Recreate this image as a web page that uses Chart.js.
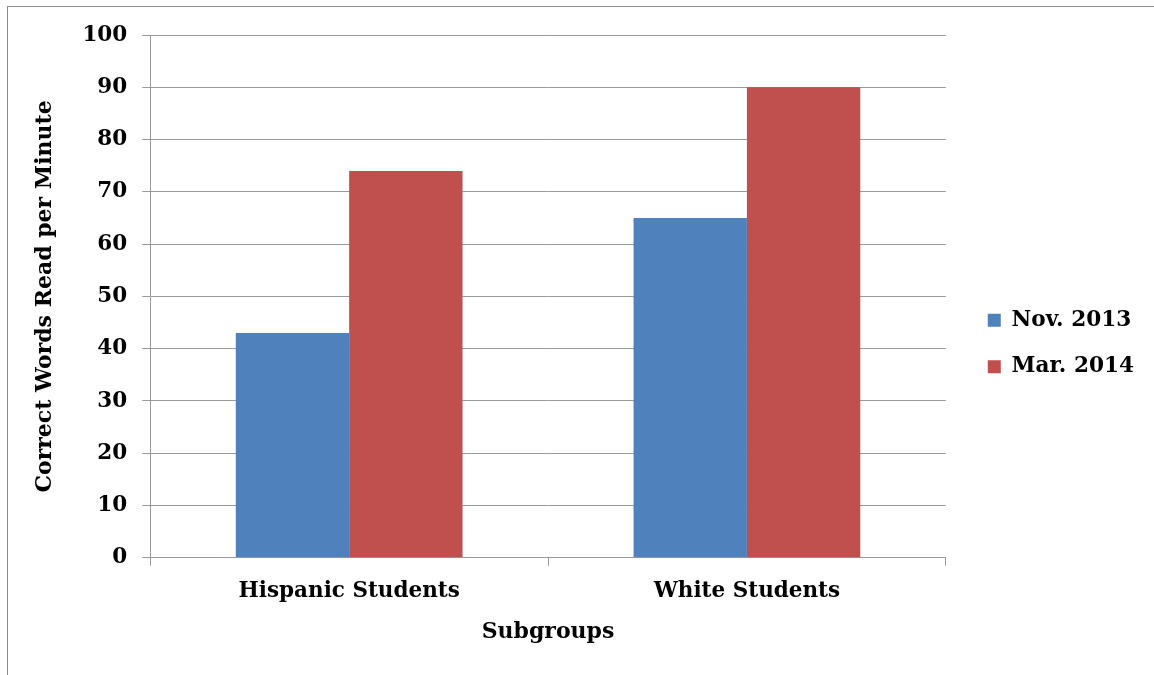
<!DOCTYPE html>
<html>
<head>
<meta charset="utf-8">
<script src="https://cdn.jsdelivr.net/npm/chart.js@4"></script>
<style>
  html, body { margin: 0; padding: 0; background: #fff; overflow: hidden; }
  #frame {
    position: absolute; left: 7px; top: 6px; width: 1200px; height: 700px;
    border-left: 1px solid #8c8c8c; border-top: 1px solid #8c8c8c;
  }
  #wrap { position: absolute; left: 0; top: 0; width: 1154px; height: 675px; }
</style>
</head>
<body>
<div id="frame"></div>
<div id="wrap"><canvas id="chart"></canvas></div>
<script>
// Chart data
const subgroups = ['Hispanic Students', 'White Students'];
const nov2013 = [43, 65];
const mar2014 = [74, 90];
const yTicks = [0, 10, 20, 30, 40, 50, 60, 70, 80, 90, 100];

const serif = "'DejaVu Serif', 'Liberation Serif', serif";
const gridGray = '#999999';
const tickFont = { family: serif, size: 21.5, weight: 'bold' };
const titleFont = { family: serif, size: 22, weight: 'bold' };

const ctx = document.getElementById('chart').getContext('2d');
new Chart(ctx, {
  type: 'bar',
  data: {
    labels: subgroups,
    datasets: [
      { label: 'Nov. 2013', data: nov2013, backgroundColor: '#4f81bd' },
      { label: 'Mar. 2014', data: mar2014, backgroundColor: '#c0504d' },
    ],
  },
  options: {
    responsive: true,
    maintainAspectRatio: false,
    animation: false,
    datasets: {
      bar: { categoryPercentage: 0.57, barPercentage: 1.0 },
    },
    layout: { padding: { top: 35, left: 32, right: 10, bottom: 23 } },
    plugins: {
      tooltip: { enabled: false },
      legend: {
        position: 'right',
        labels: {
          color: '#000',
          font: { family: serif, size: 21.6, weight: 'bold' },
          boxWidth: 13,
          boxHeight: 13,
          padding: 25,
        },
      },
    },
    scales: {
      x: {
        grid: {
          drawOnChartArea: false,
          drawTicks: true,
          tickLength: 8,
          color: gridGray,
          offset: true,
        },
        border: { color: gridGray },
        ticks: { color: '#000', font: tickFont, padding: 13 },
        title: {
          display: true,
          text: 'Subgroups',
          color: '#000',
          font: titleFont,
          padding: { top: 1, bottom: 7 },
        },
      },
      y: {
        min: 0,
        max: 100,
        afterBuildTicks: (axis) => { axis.ticks = yTicks.map(v => ({ value: v })); },
        grid: { color: gridGray, tickLength: 8 },
        border: { color: gridGray },
        ticks: { color: '#000', font: tickFont, padding: 15 },
        title: {
          display: true,
          text: 'Correct Words Read per Minute',
          color: '#000',
          font: titleFont,
          padding: { top: 0, bottom: 9 },
        },
      },
      // empty spacer between plot and legend
      gap: {
        type: 'linear',
        position: 'right',
        display: true,
        grid: { display: false },
        border: { display: false },
        ticks: { display: false },
        afterFit: (scale) => { scale.width = 17; },
      },
    },
  },
});
</script>
</body>
</html>
